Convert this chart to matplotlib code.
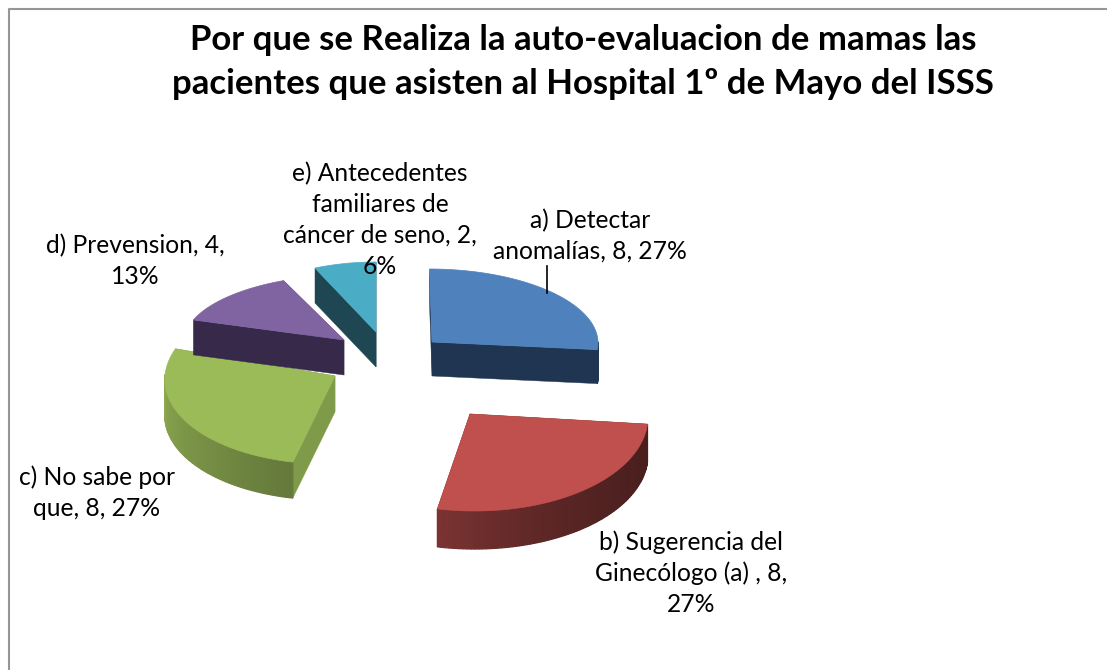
# -*- coding: utf-8 -*-
import numpy as np
import matplotlib
matplotlib.use('Agg')
import matplotlib.pyplot as plt
from matplotlib.colors import to_rgb
plt.rcParams['font.family'] = ['Lato', 'DejaVu Sans']

#%% data
title = 'Por que se Realiza la auto-evaluacion de mamas las\npacientes que asisten al Hospital 1º de Mayo del ISSS'
categories = ['a) Detectar anomalías', 'b) Sugerencia del Ginecólogo (a)', 'c) No sabe por que', 'd) Prevension', 'e) Antecedentes familiares de cáncer de seno']
values = [8, 8, 8, 4, 2]
labels = ['a) Detectar\nanomalías, 8, 27%',
          'b) Sugerencia del\nGinecólogo (a) , 8,\n27%',
          'c) No sabe por\nque, 8, 27%',
          'd) Prevension, 4,\n13%',
          'e) Antecedentes\nfamiliares de\ncáncer de seno, 2,\n6%']

#%% styles, pixel layout of the exploded 3d pie
top_colors = ['#4f81bd', '#c0504d', '#9bbb59', '#8064a2', '#4bacc6']
side_colors = ['#1f3552', '#4a1f1e', '#7f9a48', '#37294a', '#1f4753']
arc_start = ['#1f3552', '#4a1f1e', '#64793b', '#37294a', '#1f4753']
arc_end = ['#1f3552', '#7a3332', '#94b354', '#37294a', '#1f4753']
arc_power = [1, 2, 1, 1, 1]
apex_x = [432, 470, 335, 344, 376]
apex_y = [342, 414, 376, 340, 332]
radius_x = [166, 178, 170, 160, 150]
radius_y = [73, 97, 88, 65, 70]
skew = [2.5, 4.5, -7, -5, 0]
depth = [34, 38, 36, 35, 35]
label_x = [590, 691, 97, 135, 380]
label_y = [236, 573, 493, 261, 220]

theta_edges = np.concatenate([[0], np.cumsum(values)]) / np.sum(values) * 360

fig = plt.figure(figsize=(11.07, 6.7), dpi=100)
ax = fig.add_axes([0, 0, 1, 1])
ax.set_xlim(0, 1107)
ax.set_ylim(670, 0)
ax.axis('off')

# chart frame, right and bottom are cropped away in the picture
ax.plot([8.5, 8.5, 1107], [670, 8.5, 8.5], color='#969696', linewidth=1.5)

for i in range(len(values)):
    th = np.radians(np.linspace(theta_edges[i], theta_edges[i+1], 80))
    x = apex_x[i] + radius_x[i]*np.sin(th) - skew[i]*np.cos(th)
    y = apex_y[i] - radius_y[i]*np.cos(th)
    d = depth[i]
    # the two cut faces
    for k in [0, -1]:
        ax.fill([apex_x[i], x[k], x[k], apex_x[i]], [apex_y[i], y[k], y[k]+d, apex_y[i]+d],
                color=side_colors[i], linewidth=0.3, zorder=i*3+1)
    # outer wall with shading, only the front half of the ellipse shows
    c0 = np.array(to_rgb(arc_start[i]))
    c1 = np.array(to_rgb(arc_end[i]))
    for j in range(len(th)-1):
        if np.cos(th[j]) > 0 and np.cos(th[j+1]) > 0:
            continue
        t = (j/(len(th)-2))**arc_power[i]
        ax.fill([x[j], x[j+1], x[j+1], x[j]], [y[j], y[j+1], y[j+1]+d, y[j]+d],
                color=c0 + (c1-c0)*t, linewidth=0.9, zorder=i*3+2)
    ax.fill(np.r_[apex_x[i], x], np.r_[apex_y[i], y], facecolor=top_colors[i],
            edgecolor=top_colors[i], linewidth=0.5, zorder=i*3+3)

# leader line of the first label
ax.plot([546.5, 546.5], [266, 293], color='black', linewidth=1.2, zorder=30)

for i in range(len(values)):
    ax.text(label_x[i], label_y[i], labels[i], ha='center', va='center', fontsize=17.7,
            color='black', linespacing=1.41, zorder=40)

ax.text(583, 62, title, ha='center', va='center', fontsize=25, fontweight='bold',
        color='black', linespacing=1.47, zorder=40)

fig.savefig('out.png', dpi=100)
